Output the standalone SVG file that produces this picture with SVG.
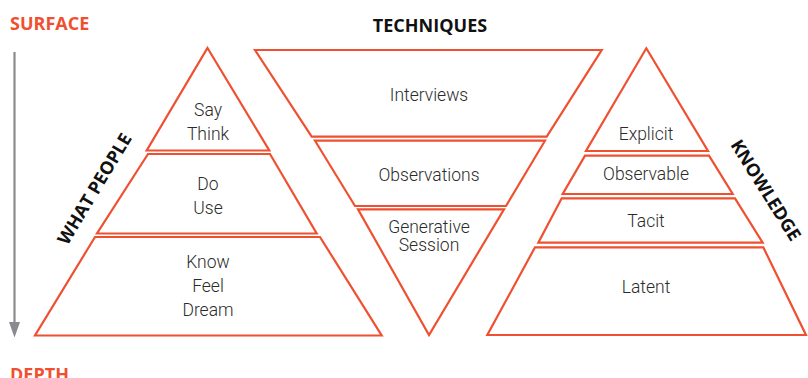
<svg xmlns="http://www.w3.org/2000/svg" width="808" height="378" viewBox="0 0 808 378">
<defs>
<style>
.seg{fill:#fff;stroke:#EF5030;stroke-width:2.2;stroke-linejoin:miter}
.lbl{font-family:Roboto,"Liberation Sans",Arial,sans-serif;font-weight:300;font-size:17.5px;fill:#2b2b2b;text-anchor:middle}
.hd{font-family:"Open Sans","Liberation Sans",Arial,sans-serif;font-weight:700;font-size:18px}
.orange{fill:#F0502F}
.blk{fill:#111}
</style>
</defs>
<rect width="808" height="378" fill="#fff"/>
<g id="axis">
<text class="hd orange" x="10" y="30">SURFACE</text>
<line x1="14.5" y1="52" x2="14.5" y2="324" stroke="#8a8a8e" stroke-width="2.2"/>
<polygon points="9,322 20,322 14.5,337.5" fill="#8a8a8e"/>
<text class="hd orange" x="10" y="381">DEPTH</text>
</g>
<g id="what-people">
<text class="hd blk" text-anchor="middle" transform="translate(100,192) rotate(-59)">WHAT PEOPLE</text>
<g id="wp-say"><polygon class="seg" points="207.5,48 269.3,150.5 146.7,150.5"/>
<text class="lbl" x="208" y="116">Say</text><text class="lbl" x="208" y="140">Think</text></g>
<g id="wp-do"><polygon class="seg" points="148,154 270,154 316.7,233.5 97,233.5"/>
<text class="lbl" x="208" y="190">Do</text><text class="lbl" x="208" y="214">Use</text></g>
<g id="wp-know"><polygon class="seg" points="95,237 320,237 381.7,335.5 35,335.5"/>
<text class="lbl" x="208" y="268">Know</text><text class="lbl" x="208" y="292">Feel</text><text class="lbl" x="208" y="316">Dream</text></g>
</g>
<g id="techniques">
<text class="hd blk" x="430" y="32" text-anchor="middle">TECHNIQUES</text>
<g id="t-interviews"><polygon class="seg" points="255,50 601.7,50 546.7,136.7 311.7,136.7"/>
<text class="lbl" x="429" y="101">Interviews</text></g>
<g id="t-observations"><polygon class="seg" points="315,140.7 545,140.7 506,206 355,206"/>
<text class="lbl" x="429" y="181">Observations</text></g>
<g id="t-generative"><polygon class="seg" points="358,209.3 504,209.3 429,335"/>
<text class="lbl" x="429" y="233">Generative</text><text class="lbl" x="429" y="251">Session</text></g>
</g>
<g id="knowledge">
<text class="hd blk" text-anchor="middle" transform="translate(760.5,193.5) rotate(58)">KNOWLEDGE</text>
<g id="k-explicit"><polygon class="seg" points="646.3,48.3 708,151 586,151"/>
<text class="lbl" x="646" y="140">Explicit</text></g>
<g id="k-observable"><polygon class="seg" points="585,155.7 709,155.7 732.7,194 562.7,194"/>
<text class="lbl" x="646" y="180">Observable</text></g>
<g id="k-tacit"><polygon class="seg" points="561.7,198.3 735,198.3 762.7,242.7 538.3,242.7"/>
<text class="lbl" x="646" y="227">Tacit</text></g>
<g id="k-latent"><polygon class="seg" points="535,247.3 763.3,247.3 806,335 487.3,335"/>
<text class="lbl" x="646" y="293">Latent</text></g>
</g>
</svg>
